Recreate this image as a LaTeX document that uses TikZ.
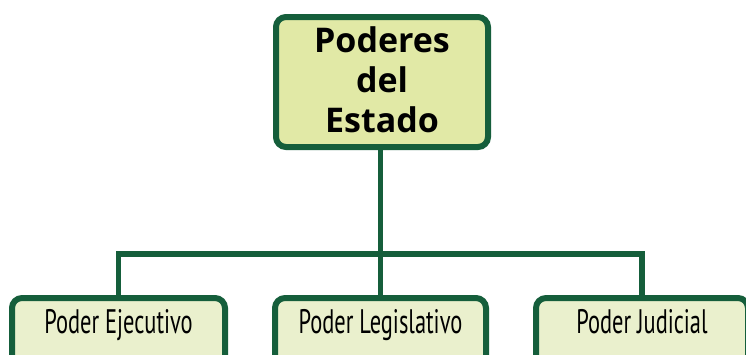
\documentclass[tikz,border=0pt]{standalone}
\usepackage{fontspec}
\newfontfamily\titlefont{Open Sans}
\newfontfamily\handfont[FakeStretch=0.66]{PT Sans}
\definecolor{dgreen}{HTML}{155E3B}
\definecolor{topfill}{HTML}{E1E9A6}
\definecolor{botfill}{HTML}{EAF0CD}
\tikzset{
  topbox/.style={draw=dgreen, line width=6pt, fill=topfill, rounded corners=10pt,
    minimum width=212pt, minimum height=130pt, inner sep=0pt, align=center,
    font=\titlefont\bfseries\fontsize{34}{40}\selectfont},
  leafbox/.style={draw=dgreen, line width=6pt, fill=botfill, rounded corners=10pt,
    anchor=north, inner xsep=0pt, inner ysep=15pt, text height=20pt, text depth=30pt,
    font=\handfont\fontsize{34}{36}\selectfont},
  link/.style={draw=dgreen, line width=5.5pt}
}
\begin{document}
\begin{tikzpicture}[x=1pt,y=-1pt]
\useasboundingbox (0,0) rectangle (746,354);
\fill[white] (0,0) rectangle (746,354);
\node[topbox, text depth=4pt] (top) at (382,82) {Poderes\\del\\Estado};
\node[leafbox, minimum width=213pt] (left) at (118.5,295) {Poder Ejecutivo};
\node[leafbox, minimum width=211pt] (mid) at (380.5,295) {Poder Legislativo};
\node[leafbox, minimum width=212pt] (right) at (642,295) {Poder Judicial};
\coordinate (bus) at (380.5,254);
\draw[link] (mid.north |- top.south) -- (mid.north);
\draw[link] (left.north) |- (bus) -| (right.north);
\end{tikzpicture}
\end{document}
